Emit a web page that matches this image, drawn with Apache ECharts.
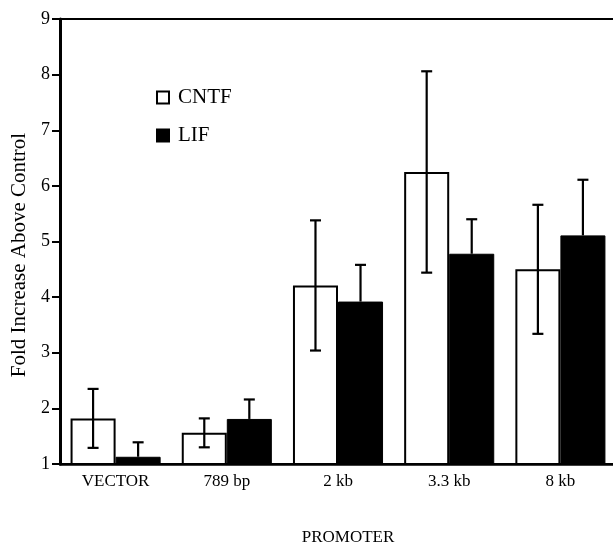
<!DOCTYPE html>
<html>
<head>
<meta charset="utf-8">
<script src="https://cdn.jsdelivr.net/npm/echarts@6/dist/echarts.min.js"></script>
<style>
  html, body { margin: 0; padding: 0; background: #fff; }
  #main { width: 613px; height: 543px; }
</style>
</head>
<body>
<div id="main"></div>
<script>
const categories = ['VECTOR', '789 bp', '2 kb', '3.3 kb', '8 kb'];
const cntfMean = [1.82, 1.56, 4.21, 6.25, 4.50];
const cntfErr = [0.53, 0.26, 1.17, 1.81, 1.16];
const lifMean = [1.13, 1.81, 3.92, 4.78, 5.11];
const lifErr = [0.26, 0.35, 0.66, 0.62, 1.00];

const serif = '"Liberation Serif", "DejaVu Serif", serif';
const gapRatio = 0.19;

// error bar: [index, low, high, side (-1 left bar / +1 right bar), lower cap?]
function errorData(mean, err, side, both) {
    return mean.map((m, i) => [i, both ? m - err[i] : m, m + err[i], side, both ? 1 : 0]);
}

function renderErr(params, api) {
    const idx = api.value(0);
    const band = api.size([1, 0])[0];
    const barW = band * (1 - gapRatio) / 2;
    const side = api.value(3);
    const top = api.coord([idx, api.value(2)]);
    const low = api.coord([idx, api.value(1)]);
    const x = top[0] + side * barW / 2;
    const cap = 5.5;
    const style = { stroke: '#000', lineWidth: 2.2 };
    const children = [
        { type: 'line', shape: { x1: x, y1: top[1], x2: x, y2: low[1] }, style: style },
        { type: 'line', shape: { x1: x - cap, y1: top[1], x2: x + cap, y2: top[1] }, style: style }
    ];
    if (api.value(4)) {
        children.push({ type: 'line', shape: { x1: x - cap, y1: low[1], x2: x + cap, y2: low[1] }, style: style });
    }
    return { type: 'group', children: children };
}

const chart = echarts.init(document.getElementById('main'));
chart.setOption({
    backgroundColor: '#fff',
    animation: false,
    grid: {
        left: 60, right: -3, top: 19, bottom: 79,
        outerBoundsMode: 'none',
        containLabel: false,
        show: true, borderColor: '#000', borderWidth: 2
    },
    legend: {
        data: ['CNTF', 'LIF'],
        orient: 'vertical',
        left: 151, top: 82,
        icon: 'rect',
        itemWidth: 12, itemHeight: 12,
        itemGap: 17,
        textStyle: { fontFamily: serif, fontSize: 21, color: '#000', padding: [0, 0, 0, 4] }
    },
    xAxis: {
        type: 'category',
        data: categories,
        name: 'PROMOTER',
        nameLocation: 'middle',
        nameGap: 65,
        nameTextStyle: { fontFamily: serif, fontSize: 17, color: '#000', padding: [0, 0, 0, 20] },
        axisLine: { lineStyle: { color: '#000', width: 2.5 } },
        axisTick: { alignWithLabel: true, length: 5, lineStyle: { color: '#000', width: 2 } },
        axisLabel: { fontFamily: serif, fontSize: 17, color: '#000', margin: 9 },
        splitLine: { show: false }
    },
    yAxis: {
        type: 'value',
        min: 1, max: 9, interval: 1,
        name: 'Fold Increase Above Control',
        nameLocation: 'middle',
        nameGap: 24,
        nameTextStyle: { fontFamily: serif, fontSize: 21, color: '#000', padding: [0, 27, 0, 0] },
        axisLine: { show: true, lineStyle: { color: '#000', width: 3 } },
        axisTick: { show: true, length: 8, lineStyle: { color: '#000', width: 2 } },
        axisLabel: { fontFamily: serif, fontSize: 18, color: '#000', margin: 10 },
        splitLine: { show: false }
    },
    series: [
        {
            name: 'CNTF', type: 'bar', data: cntfMean,
            barGap: '0%', barCategoryGap: '19%',
            itemStyle: { color: '#fff', borderColor: '#000', borderWidth: 2 }
        },
        {
            name: 'LIF', type: 'bar', data: lifMean,
            itemStyle: { color: '#000', borderColor: '#000', borderWidth: 1 }
        },
        {
            name: 'CNTF err', type: 'custom', renderItem: renderErr,
            data: errorData(cntfMean, cntfErr, -1, true), z: 5
        },
        {
            name: 'LIF err', type: 'custom', renderItem: renderErr,
            data: errorData(lifMean, lifErr, 1, false), z: 5
        }
    ]
});
</script>
</body>
</html>
